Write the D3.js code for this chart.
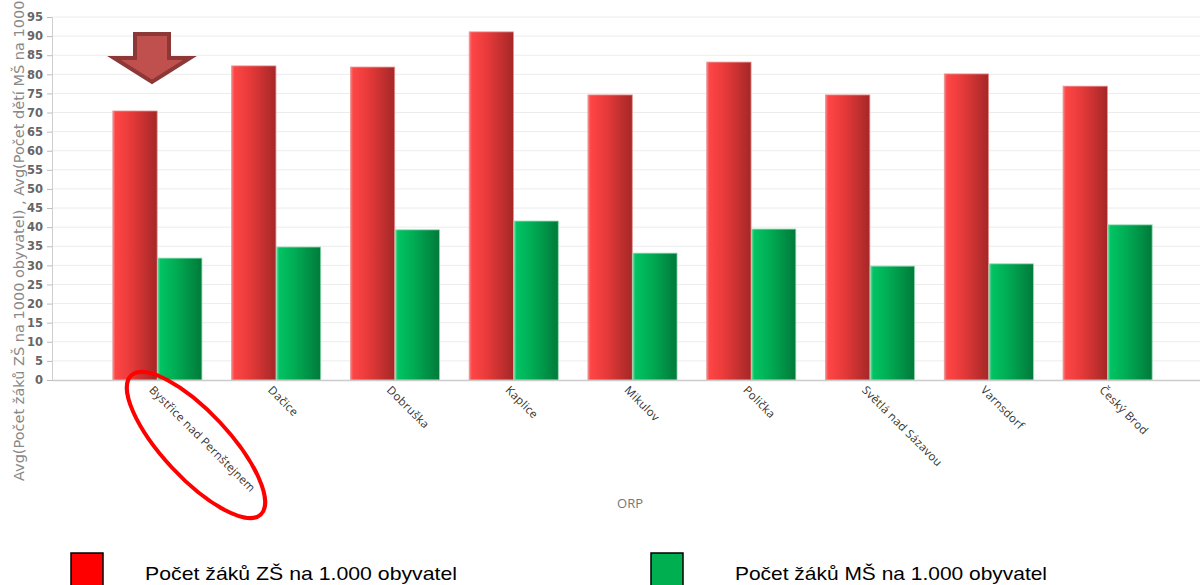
<!DOCTYPE html>
<html>
<head>
<meta charset="utf-8">
<script src="https://cdn.jsdelivr.net/npm/d3@7"></script>
<style>
  body { margin: 0; background: #fff; }
  svg { display: block; }
</style>
</head>
<body>
<svg id="chart" width="1200" height="585"></svg>
<script>
'use strict';

// data
var categories = ['Bystřice nad Pernštejnem', 'Dačice', 'Dobruška', 'Kaplice', 'Mikulov',
  'Polička', 'Světlá nad Sázavou', 'Varnsdorf', 'Český Brod'];
var zsValues = [70.4, 82.2, 81.9, 91.1, 74.6, 83.2, 74.6, 80.1, 76.9];
var msValues = [31.9, 34.8, 39.3, 41.6, 33.2, 39.5, 29.8, 30.4, 40.6];
var yTicks = d3.range(0, 96, 5);
var seriesNames = ['Počet žáků ZŠ na 1.000 obyvatel', 'Počet žáků MŠ na 1.000 obyvatel'];

var svg = d3.select('#chart');
var defs = svg.append('defs');

function addGradient(id, stops) {
  var g = defs.append('linearGradient').attr('id', id)
    .attr('x1', '0%').attr('x2', '100%').attr('y1', '0%').attr('y2', '0%');
  stops.forEach(function (s) {
    g.append('stop').attr('offset', s[0]).attr('stop-color', s[1]);
  });
}
addGradient('gradRed', [['0%', '#f08a8a'], ['6%', '#ff4545'], ['40%', '#e83a3a'], ['100%', '#a52727']]);
addGradient('gradGreen', [['0%', '#7fd8a6'], ['6%', '#00c463'], ['40%', '#00ad55'], ['100%', '#007a3a']]);

//Plot area
var plotLeft = 52, plotRight = 1200, plotTop = 17, plotBottom = 380;

var xScale = d3.scaleBand().domain(categories).range([98, 1167]).paddingInner(0.25).paddingOuter(0.125);
var subScale = d3.scaleBand().domain([0, 1]).range([0, xScale.bandwidth()]).paddingInner(0.01);
var yScale = d3.scaleLinear().domain([0, 95]).range([plotBottom, plotTop]);

//Grid lines
svg.append('g').selectAll('line').data(yTicks.filter(function (d) { return d > 0; }))
  .enter().append('line')
  .attr('x1', plotLeft).attr('x2', plotRight)
  .attr('y1', function (d) { return yScale(d); }).attr('y2', function (d) { return yScale(d); })
  .attr('stroke', '#ececec').attr('stroke-width', 1);

//Y axis
var yAxis = svg.append('g').attr('transform', 'translate(' + plotLeft + ',0)')
  .call(d3.axisLeft(yScale).tickValues(yTicks).tickSize(5).tickPadding(4));
yAxis.select('.domain').attr('stroke', '#cfcfcf');
yAxis.selectAll('.tick line').attr('stroke', '#bbbbbb');
yAxis.selectAll('.tick text').attr('fill', '#666').style('font-family', 'DejaVu Sans, Verdana, sans-serif')
  .style('font-size', '11.5px').style('font-weight', 'bold');

//Bars
var groups = svg.append('g').selectAll('g.cat').data(categories).enter().append('g')
  .attr('transform', function (d) { return 'translate(' + xScale(d) + ',0)'; });

groups.append('rect')
  .attr('x', subScale(0)).attr('width', subScale.bandwidth())
  .attr('y', function (d, i) { return yScale(zsValues[i]); })
  .attr('height', function (d, i) { return plotBottom - yScale(zsValues[i]); })
  .attr('fill', 'url(#gradRed)').attr('stroke', '#e89090').attr('stroke-width', 0.8);

groups.append('rect')
  .attr('x', subScale(1)).attr('width', subScale.bandwidth())
  .attr('y', function (d, i) { return yScale(msValues[i]); })
  .attr('height', function (d, i) { return plotBottom - yScale(msValues[i]); })
  .attr('fill', 'url(#gradGreen)').attr('stroke', '#8fd8b0').attr('stroke-width', 0.8);

//X axis
var xAxis = svg.append('g').attr('transform', 'translate(0,' + plotBottom + ')')
  .call(d3.axisBottom(xScale).tickSize(0).tickPadding(0));
xAxis.select('.domain').remove();
xAxis.append('line').attr('x1', plotLeft).attr('x2', plotRight).attr('y1', 0.5).attr('y2', 0.5)
  .attr('stroke', '#cccccc').attr('stroke-width', 1.5);
xAxis.selectAll('.tick text')
  .attr('fill', '#333').style('font-family', 'Open Sans, sans-serif').style('font-size', '11.5px')
  .style('letter-spacing', '0.3px')
  .attr('text-anchor', 'start')
  .attr('transform', 'translate(-6,8) rotate(45)')
  .attr('dy', '0.35em');

//Axis titles
svg.append('text').attr('x', 630).attr('y', 508).attr('text-anchor', 'middle')
  .attr('fill', '#777').style('font-family', 'Open Sans, sans-serif').style('font-size', '13px').text('ORP');

svg.append('text').attr('transform', 'translate(24,481) rotate(-90)').attr('text-anchor', 'start')
  .attr('fill', '#888').style('font-family', 'DejaVu Sans, Verdana, sans-serif').style('font-size', '14.5px')
  .text('Avg(Počet žáků ZŠ na 1000 obyvatel) , Avg(Počet dětí MŠ na 1000 obyvatel)');

//Annotation: arrow over first category
svg.append('path')
  .attr('d', 'M135,34 L169,34 L169,58 L190,58 L152,82 L114,58 L135,58 Z')
  .attr('fill', '#c0504d').attr('stroke', '#8c3836').attr('stroke-width', 4).attr('stroke-linejoin', 'miter');

//Annotation: ellipse around first label
svg.append('ellipse')
  .attr('cx', 196).attr('cy', 445).attr('rx', 95).attr('ry', 33)
  .attr('transform', 'rotate(47,196,445)')
  .attr('fill', 'none').attr('stroke', '#ff0000').attr('stroke-width', 4);

//Legend
var legendX = [71, 651];
var legendTextX = [74, 84];
var legendColors = ['#ff0000', '#00b050'];
var legend = svg.append('g').selectAll('g').data(seriesNames).enter().append('g')
  .attr('transform', function (d, i) { return 'translate(' + legendX[i] + ',553)'; });
legend.append('rect').attr('width', 32).attr('height', 36)
  .attr('fill', function (d, i) { return legendColors[i]; })
  .attr('stroke', '#000').attr('stroke-width', 1.5);
legend.append('text').attr('x', function (d, i) { return legendTextX[i]; }).attr('y', 27)
  .style('font-family', 'Liberation Sans, Arial, sans-serif').style('font-size', '19px')
  .attr('textLength', 312).attr('lengthAdjust', 'spacingAndGlyphs')
  .attr('fill', '#000')
  .text(function (d) { return d; });
</script>
</body>
</html>
